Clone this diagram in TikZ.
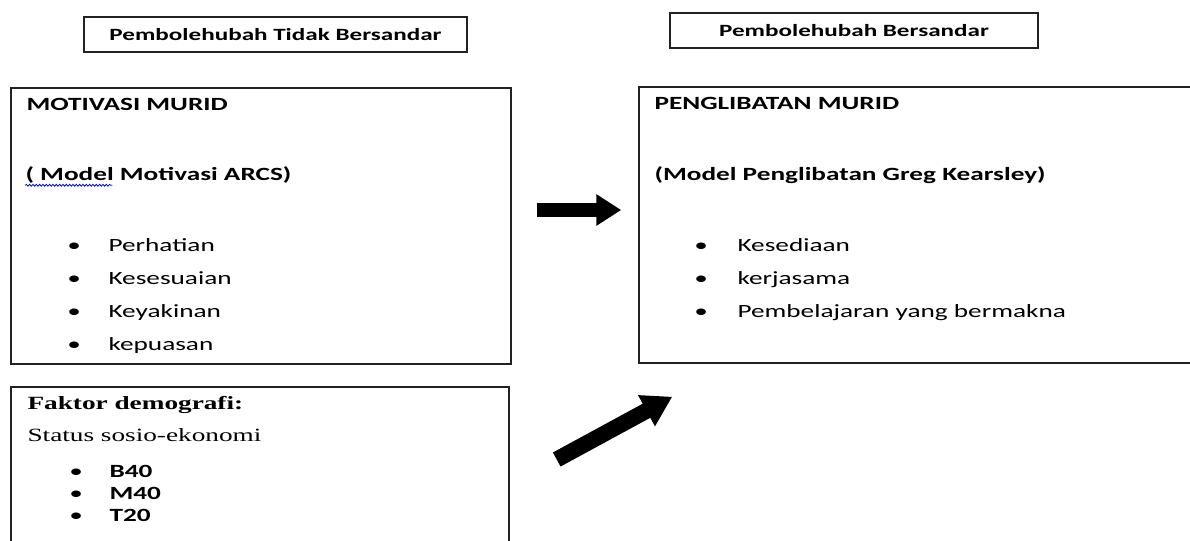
\documentclass[tikz,border=0pt]{standalone}
\usepackage{fontspec}
\setmainfont{Carlito}[FakeStretch=1.46]
\newfontfamily\serifdemo{Liberation Serif}[FakeStretch=1.46]
\usetikzlibrary{arrows.meta,decorations.pathmorphing}
\definecolor{boxLine}{RGB}{34,34,34}

\begin{document}
\begin{tikzpicture}[x=0.75pt, y=-0.75pt,
        varbox/.style={rectangle, draw=boxLine, line width=1.1pt, minimum height=26.25pt, font=\fontsize{12.9}{15}\selectfont\bfseries},
        panel/.style={rectangle, draw=boxLine, line width=1.1pt, minimum height=207pt},
        heading/.style={anchor=base west, inner sep=0pt, font=\fontsize{14}{16}\selectfont\bfseries},
        entry/.style={anchor=base west, inner sep=0pt, font=\fontsize{14}{16}\selectfont},
        dot/.style={anchor=base, inner sep=0pt, font=\fontsize{14}{16}\selectfont}
    ]
        \clip (0,0) rectangle (1190,540);
        \node[varbox, minimum width=287.25pt] (indep) at (275.5,34.5) {Pembolehubah Tidak Bersandar};
        \node[varbox, minimum width=276pt] (dep) at (854,30.5) {Pembolehubah Bersandar};
        \node[panel, minimum width=375pt] (motiv) at (261,226) {};
        \node[panel, minimum width=420.75pt] (libat) at (919.5,225) {};
        \node[panel, minimum width=373.5pt, minimum height=129.75pt] (faktor) at (260,473.5) {};

        \node[heading] (motivTitle) at ([shift={(16,23)}]motiv.north west) {MOTIVASI MURID};
        \node[heading] (motivModel) at ([shift={(15,93)}]motiv.north west) {( Model Motivasi ARCS)};
        \draw[blue!80!black, line width=0.6pt, decorate, decoration={snake, amplitude=0.7pt, segment length=2.5pt}] ([shift={(0,5)}]motivModel.base west) -- ++(87,0);
        \foreach \txt [count=\i] in {Perhatian, Kesesuaian, Keyakinan, kepuasan} {
            \node[dot] (motivDot\i) at ([shift={(64,131+33*\i)}]motiv.north west) {•};
            \node[entry] (motivItem\i) at ([shift={(98,131+33*\i)}]motiv.north west) {\txt};
        }

        \node[heading] (libatTitle) at ([shift={(16,23)}]libat.north west) {PENGLIBATAN MURID};
        \node[heading] (libatModel) at ([shift={(16,94)}]libat.north west) {(Model Penglibatan Greg Kearsley)};
        \foreach \txt [count=\i] in {Kesediaan, kerjasama, Pembelajaran yang bermakna} {
            \node[dot] (libatDot\i) at ([shift={(63,132+33*\i)}]libat.north west) {•};
            \node[entry] (libatItem\i) at ([shift={(99,132+33*\i)}]libat.north west) {\txt};
        }

        \node[heading, font=\fontsize{14}{16}\selectfont\serifdemo\bfseries] (faktorTitle) at ([shift={(17,23)}]faktor.north west) {Faktor demografi:};
        \node[entry, font=\fontsize{14}{16}\selectfont\serifdemo] (faktorStatus) at ([shift={(17,55)}]faktor.north west) {Status sosio-ekonomi};
        \foreach \txt [count=\i] in {B40, M40, T20} {
            \node[dot] (faktorDot\i) at ([shift={(66,69+22*\i)}]faktor.north west) {•};
            \node[heading] (faktorItem\i) at ([shift={(99,69+22*\i)}]faktor.north west) {\txt};
        }

        \coordinate (flowA) at ([shift={(25,-16)}]motiv.east);
        \coordinate (flowB) at ([shift={(-17,-15)}]libat.west);
        \draw[line width=10.5pt, -{Triangle[length=18.75pt,width=22.5pt]}] (flowA) -- (flowB);
        \coordinate (flowC) at ([shift={(47,-14)}]faktor.east);
        \coordinate (flowD) at ([shift={(34,33)}]libat.south west);
        \draw[line width=12pt, -{Triangle[length=22pt,width=25pt]}] (flowC) -- (flowD);
    \end{tikzpicture}
\end{document}
